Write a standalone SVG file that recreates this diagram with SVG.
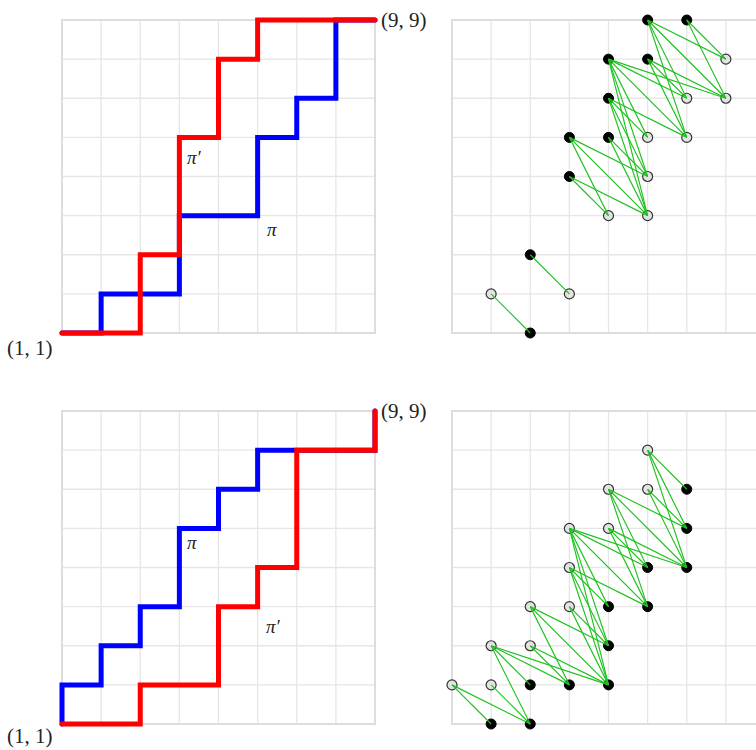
<svg xmlns="http://www.w3.org/2000/svg" width="756" height="750" viewBox="0 0 756 750">
<style>
.grid{stroke:#e6e6e6;stroke-width:1.3;fill:none}
.frame{stroke:#dddddd;stroke-width:2;fill:none}
.pb{stroke:#0000ff;stroke-width:5;fill:none;stroke-linecap:round;stroke-linejoin:miter}
.pr{stroke:#ff0000;stroke-width:5;fill:none;stroke-linecap:round;stroke-linejoin:miter}
#connectors line{stroke:#1fc21f;stroke-width:1.15;fill:none}
.b{fill:#000000;stroke:#000000;stroke-width:1}
.o{fill:#e3e3e3;stroke:#333333;stroke-width:1.2}
.lab{font-family:"Liberation Serif","DejaVu Serif",serif;font-size:21px;fill:#222}
.pi{font-family:"Liberation Serif","DejaVu Serif",serif;font-style:italic;font-size:19px;fill:#222}
</style>
<defs>
<g id="gridL">
<path class="grid" d="M101.125,0V313M140.25,0V313M179.375,0V313M218.5,0V313M257.625,0V313M296.75,0V313M335.875,0V313M62,39.125H375M62,78.25H375M62,117.375H375M62,156.5H375M62,195.625H375M62,234.75H375M62,273.875H375"/>
<rect class="frame" x="62" y="0" width="313" height="313"/>
</g>
<g id="gridR">
<path class="grid" d="M491.125,0V313M530.25,0V313M569.375,0V313M608.5,0V313M647.625,0V313M686.75,0V313M725.875,0V313M452,39.125H765M452,78.25H765M452,117.375H765M452,156.5H765M452,195.625H765M452,234.75H765M452,273.875H765"/>
<rect class="frame" x="452" y="0" width="313" height="313"/>
</g>
</defs>
<g id="grids">
<use href="#gridL" transform="translate(0,20)"/>
<use href="#gridR" transform="translate(0,20)"/>
<use href="#gridL" transform="translate(0,411)"/>
<use href="#gridR" transform="translate(0,411)"/>
</g>
<g id="paths">
<path id="pi-top" class="pb" d="M62,333 H101.125 V293.875 H179.375 V215.625 H257.625 V137.375 H296.75 V98.25 H335.875 V20 H375"/>
<path id="piprime-top" class="pr" d="M62,333 H140.25 V254.75 H179.375 V137.375 H218.5 V59.125 H257.625 V20 H375"/>
<path id="pi-bottom" class="pb" d="M62,724 V684.875 H101.125 V645.75 H140.25 V606.625 H179.375 V528.375 H218.5 V489.25 H257.625 V450.125 H375 V411"/>
<path id="piprime-bottom" class="pr" d="M62,724 H140.25 V684.875 H218.5 V606.625 H257.625 V567.5 H296.75 V450.125 H375 V411"/>
</g>
<g id="labels">
<text class="lab" x="7" y="355">(1, 1)</text>
<text class="lab" x="381" y="27">(9, 9)</text>
<text class="pi" x="187" y="164">π′</text>
<text class="pi" x="267" y="236">π</text>
<text class="lab" x="7" y="743">(1, 1)</text>
<text class="lab" x="381" y="418">(9, 9)</text>
<text class="pi" x="187" y="549">π</text>
<text class="pi" x="266" y="633">π′</text>
</g>
<g id="nodes-top">
<g id="t-b58"><circle class="b" cx="647.625" cy="20" r="5"/></g>
<g id="t-b68"><circle class="b" cx="686.75" cy="20" r="5"/></g>
<g id="t-b47"><circle class="b" cx="608.5" cy="59.125" r="5"/></g>
<g id="t-b57"><circle class="b" cx="647.625" cy="59.125" r="5"/></g>
<g id="t-b46"><circle class="b" cx="608.5" cy="98.25" r="5"/></g>
<g id="t-b35"><circle class="b" cx="569.375" cy="137.375" r="5"/></g>
<g id="t-b45"><circle class="b" cx="608.5" cy="137.375" r="5"/></g>
<g id="t-b34"><circle class="b" cx="569.375" cy="176.5" r="5"/></g>
<g id="t-b22"><circle class="b" cx="530.25" cy="254.75" r="5"/></g>
<g id="t-b20"><circle class="b" cx="530.25" cy="333" r="5"/></g>
<g id="t-o77"><circle class="o" cx="725.875" cy="59.125" r="5"/></g>
<g id="t-o66"><circle class="o" cx="686.75" cy="98.25" r="5"/></g>
<g id="t-o76"><circle class="o" cx="725.875" cy="98.25" r="5"/></g>
<g id="t-o55"><circle class="o" cx="647.625" cy="137.375" r="5"/></g>
<g id="t-o65"><circle class="o" cx="686.75" cy="137.375" r="5"/></g>
<g id="t-o54"><circle class="o" cx="647.625" cy="176.5" r="5"/></g>
<g id="t-o43"><circle class="o" cx="608.5" cy="215.625" r="5"/></g>
<g id="t-o53"><circle class="o" cx="647.625" cy="215.625" r="5"/></g>
<g id="t-o11"><circle class="o" cx="491.125" cy="293.875" r="5"/></g>
<g id="t-o31"><circle class="o" cx="569.375" cy="293.875" r="5"/></g>
</g>
<g id="nodes-bottom">
<g id="b-o57"><circle class="o" cx="647.625" cy="450.125" r="5"/></g>
<g id="b-o46"><circle class="o" cx="608.5" cy="489.25" r="5"/></g>
<g id="b-o56"><circle class="o" cx="647.625" cy="489.25" r="5"/></g>
<g id="b-o35"><circle class="o" cx="569.375" cy="528.375" r="5"/></g>
<g id="b-o45"><circle class="o" cx="608.5" cy="528.375" r="5"/></g>
<g id="b-o34"><circle class="o" cx="569.375" cy="567.5" r="5"/></g>
<g id="b-o23"><circle class="o" cx="530.25" cy="606.625" r="5"/></g>
<g id="b-o33"><circle class="o" cx="569.375" cy="606.625" r="5"/></g>
<g id="b-o12"><circle class="o" cx="491.125" cy="645.75" r="5"/></g>
<g id="b-o22"><circle class="o" cx="530.25" cy="645.75" r="5"/></g>
<g id="b-o01"><circle class="o" cx="452" cy="684.875" r="5"/></g>
<g id="b-o11"><circle class="o" cx="491.125" cy="684.875" r="5"/></g>
<g id="b-b66"><circle class="b" cx="686.75" cy="489.25" r="5"/></g>
<g id="b-b65"><circle class="b" cx="686.75" cy="528.375" r="5"/></g>
<g id="b-b54"><circle class="b" cx="647.625" cy="567.5" r="5"/></g>
<g id="b-b64"><circle class="b" cx="686.75" cy="567.5" r="5"/></g>
<g id="b-b43"><circle class="b" cx="608.5" cy="606.625" r="5"/></g>
<g id="b-b53"><circle class="b" cx="647.625" cy="606.625" r="5"/></g>
<g id="b-b42"><circle class="b" cx="608.5" cy="645.75" r="5"/></g>
<g id="b-b21"><circle class="b" cx="530.25" cy="684.875" r="5"/></g>
<g id="b-b31"><circle class="b" cx="569.375" cy="684.875" r="5"/></g>
<g id="b-b41"><circle class="b" cx="608.5" cy="684.875" r="5"/></g>
<g id="b-b10"><circle class="b" cx="491.125" cy="724" r="5"/></g>
<g id="b-b20"><circle class="b" cx="530.25" cy="724" r="5"/></g>
</g>
<g id="connectors">
<line x1="647.625" y1="20" x2="725.875" y2="59.125"/>
<line x1="647.625" y1="20" x2="686.75" y2="98.25"/>
<line x1="647.625" y1="20" x2="725.875" y2="98.25"/>
<line x1="647.625" y1="20" x2="686.75" y2="137.375"/>
<line x1="686.75" y1="20" x2="725.875" y2="59.125"/>
<line x1="686.75" y1="20" x2="725.875" y2="98.25"/>
<line x1="608.5" y1="59.125" x2="686.75" y2="98.25"/>
<line x1="608.5" y1="59.125" x2="725.875" y2="98.25"/>
<line x1="608.5" y1="59.125" x2="647.625" y2="137.375"/>
<line x1="608.5" y1="59.125" x2="686.75" y2="137.375"/>
<line x1="608.5" y1="59.125" x2="647.625" y2="176.5"/>
<line x1="608.5" y1="59.125" x2="647.625" y2="215.625"/>
<line x1="647.625" y1="59.125" x2="686.75" y2="98.25"/>
<line x1="647.625" y1="59.125" x2="725.875" y2="98.25"/>
<line x1="647.625" y1="59.125" x2="686.75" y2="137.375"/>
<line x1="608.5" y1="98.25" x2="647.625" y2="137.375"/>
<line x1="608.5" y1="98.25" x2="686.75" y2="137.375"/>
<line x1="608.5" y1="98.25" x2="647.625" y2="176.5"/>
<line x1="608.5" y1="98.25" x2="647.625" y2="215.625"/>
<line x1="569.375" y1="137.375" x2="647.625" y2="176.5"/>
<line x1="569.375" y1="137.375" x2="608.5" y2="215.625"/>
<line x1="569.375" y1="137.375" x2="647.625" y2="215.625"/>
<line x1="608.5" y1="137.375" x2="647.625" y2="176.5"/>
<line x1="608.5" y1="137.375" x2="647.625" y2="215.625"/>
<line x1="569.375" y1="176.5" x2="608.5" y2="215.625"/>
<line x1="569.375" y1="176.5" x2="647.625" y2="215.625"/>
<line x1="530.25" y1="254.75" x2="569.375" y2="293.875"/>
<line x1="491.125" y1="293.875" x2="530.25" y2="333"/>
<line x1="647.625" y1="450.125" x2="686.75" y2="489.25"/>
<line x1="647.625" y1="450.125" x2="686.75" y2="528.375"/>
<line x1="647.625" y1="450.125" x2="686.75" y2="567.5"/>
<line x1="608.5" y1="489.25" x2="686.75" y2="528.375"/>
<line x1="608.5" y1="489.25" x2="647.625" y2="567.5"/>
<line x1="608.5" y1="489.25" x2="686.75" y2="567.5"/>
<line x1="608.5" y1="489.25" x2="647.625" y2="606.625"/>
<line x1="647.625" y1="489.25" x2="686.75" y2="528.375"/>
<line x1="647.625" y1="489.25" x2="686.75" y2="567.5"/>
<line x1="569.375" y1="528.375" x2="647.625" y2="567.5"/>
<line x1="569.375" y1="528.375" x2="686.75" y2="567.5"/>
<line x1="569.375" y1="528.375" x2="608.5" y2="606.625"/>
<line x1="569.375" y1="528.375" x2="647.625" y2="606.625"/>
<line x1="569.375" y1="528.375" x2="608.5" y2="645.75"/>
<line x1="569.375" y1="528.375" x2="608.5" y2="684.875"/>
<line x1="608.5" y1="528.375" x2="647.625" y2="567.5"/>
<line x1="608.5" y1="528.375" x2="686.75" y2="567.5"/>
<line x1="608.5" y1="528.375" x2="647.625" y2="606.625"/>
<line x1="569.375" y1="567.5" x2="608.5" y2="606.625"/>
<line x1="569.375" y1="567.5" x2="647.625" y2="606.625"/>
<line x1="569.375" y1="567.5" x2="608.5" y2="645.75"/>
<line x1="569.375" y1="567.5" x2="608.5" y2="684.875"/>
<line x1="530.25" y1="606.625" x2="608.5" y2="645.75"/>
<line x1="530.25" y1="606.625" x2="569.375" y2="684.875"/>
<line x1="530.25" y1="606.625" x2="608.5" y2="684.875"/>
<line x1="569.375" y1="606.625" x2="608.5" y2="645.75"/>
<line x1="569.375" y1="606.625" x2="608.5" y2="684.875"/>
<line x1="491.125" y1="645.75" x2="530.25" y2="684.875"/>
<line x1="491.125" y1="645.75" x2="569.375" y2="684.875"/>
<line x1="491.125" y1="645.75" x2="608.5" y2="684.875"/>
<line x1="491.125" y1="645.75" x2="530.25" y2="724"/>
<line x1="530.25" y1="645.75" x2="569.375" y2="684.875"/>
<line x1="530.25" y1="645.75" x2="608.5" y2="684.875"/>
<line x1="452" y1="684.875" x2="491.125" y2="724"/>
<line x1="452" y1="684.875" x2="530.25" y2="724"/>
<line x1="491.125" y1="684.875" x2="530.25" y2="724"/>
</g>
</svg>
